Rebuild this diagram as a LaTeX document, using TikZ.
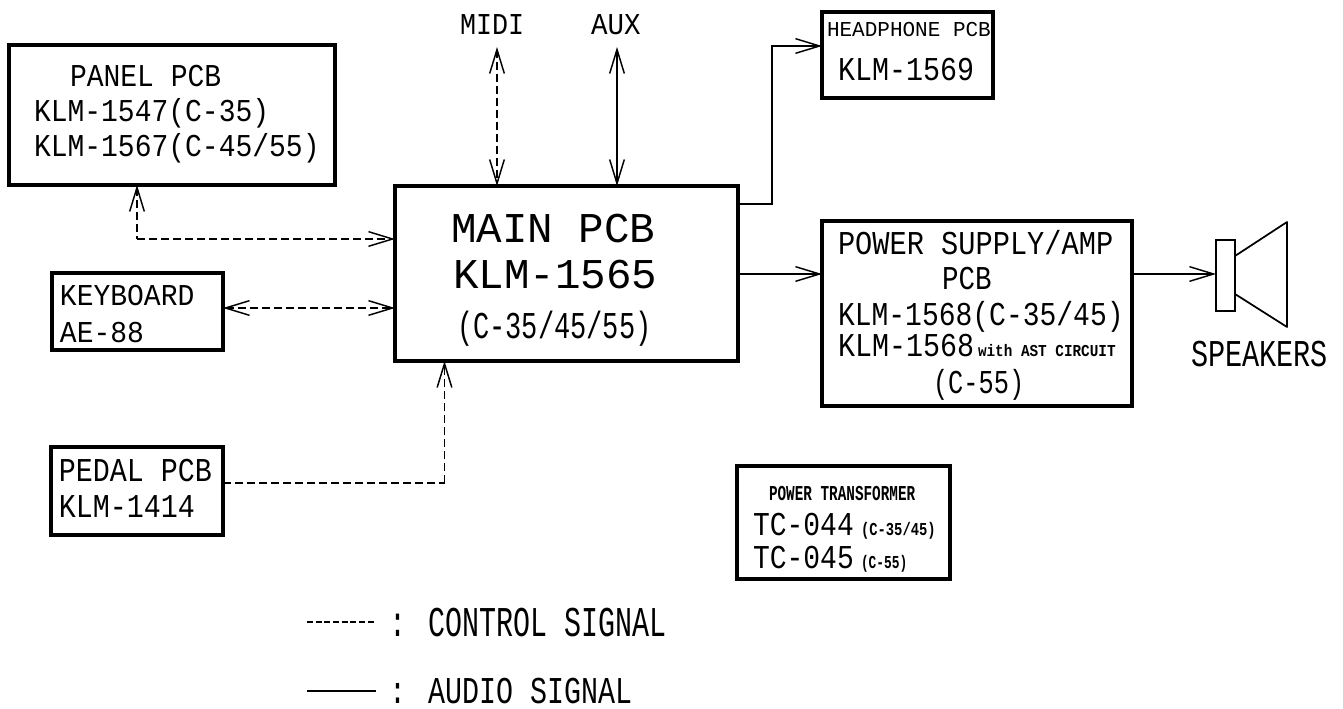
\documentclass[tikz,border=0pt]{standalone}
\usepackage{fontspec}
\usepackage{graphicx}
\setmainfont{Liberation Mono}
\usetikzlibrary{arrows.meta}
% \tx{cap height px}{advance px}{text}
\newcommand{\tx}[3]{\pgfmathsetmacro{\fsz}{#1*0.75/0.66}\pgfmathsetmacro{\xsc}{#2/(0.6*#1/0.66)}\fontsize{\fsz pt}{\fsz pt}\selectfont\scalebox{\xsc}[1]{#3}}
\tikzset{
  x=0.75pt,y=-0.75pt,
  rect/.style n args={4}{at={({(#1+#3)/2},{(#2+#4)/2})},minimum width={(#3-#1)*0.75pt},minimum height={(#4-#2)*0.75pt}},
  pcbbox/.style={draw,rectangle,line width=2.5pt,inner sep=0pt,outer sep=0pt},
  lbl/.style={anchor=base west,inner sep=0pt,outer sep=0pt},
  barb/.tip={Straight Barb[length=18pt,width=11pt,line width=1.1pt]},
  ctl/.style={line width=1.4pt,dash pattern=on 6pt off 3pt},
  ctlthin/.style={line width=0.8pt,dash pattern=on 6pt off 3pt},
  audio/.style={line width=1.3pt},
}
\begin{document}
\begin{tikzpicture}
\useasboundingbox (0,0) rectangle (1343,709);
% boxes
\node[pcbbox,rect={9}{45}{335}{185}] (panel) {};
\node[pcbbox,rect={395}{186}{738}{361}] (main) {};
\node[pcbbox,rect={52}{273}{223}{350}] (kb) {};
\node[pcbbox,rect={51}{447}{223}{535}] (pedal) {};
\node[pcbbox,rect={822}{12}{993}{98}] (hp) {};
\node[pcbbox,rect={822}{221}{1132}{406}] (psu) {};
\node[pcbbox,rect={737}{466}{950}{579}] (trans) {};
% speaker
\node[draw,rectangle,line width=1.3pt,inner sep=0pt,outer sep=0pt,rect={1216}{240}{1235}{311}] (spk) {};
\draw[line width=1.3pt,line join=round] (spk.east |- 0,256) -- (1287,222) -- (1287,327) -- (spk.east |- 0,294);
% texts
\node[lbl] (t1) at (70,87) {\tx{21}{16.8}{PANEL PCB}};
\node[lbl] (t2) at (34,122) {\tx{21}{16.8}{KLM-1547(C-35)}};
\node[lbl] (t3) at (34,157) {\tx{21}{16.8}{KLM-1567(C-45/55)}};
\node[lbl] (t4) at (460,35) {\tx{20}{16}{MIDI}};
\node[lbl] (t5) at (591,35) {\tx{20}{16.5}{AUX}};
\node[lbl] (t6) at (451,243) {\tx{28}{25.5}{MAIN PCB}};
\node[lbl] (t7) at (453,289) {\tx{28}{25.5}{KLM-1565}};
\node[lbl] (t8) at (457,339) {\tx{25}{16.2}{(C-35/45/55)}};
\node[lbl] (t9) at (60,306) {\tx{20}{16.8}{KEYBOARD}};
\node[lbl] (t10) at (60,343) {\tx{20}{16.8}{AE-88}};
\node[lbl] (t11) at (827,37) {\tx{14}{12.6}{HEADPHONE PCB}};
\node[lbl] (t12) at (838,81) {\tx{22}{17}{KLM-1569}};
\node[lbl] (t13) at (838,255) {\tx{22}{17.2}{POWER SUPPLY/AMP}};
\node[lbl] (t14) at (942,290) {\tx{22}{16.5}{PCB}};
\node[lbl] (t15) at (838,326) {\tx{22}{16.8}{KLM-1568(C-35/45)}};
\node[lbl] (t16) at (838,357) {\tx{22}{17}{KLM-1568}\hspace{3pt}\tx{11}{8.6}{\bfseries with AST CIRCUIT}};
\node[lbl] (t17) at (933,393) {\tx{22}{15.2}{(C-55)}};
\node[lbl] (t18) at (1191,367) {\tx{25}{17.1}{SPEAKERS}};
\node[lbl] (t19) at (59,481) {\tx{22}{17}{PEDAL PCB}};
\node[lbl] (t20) at (59,517) {\tx{22}{17}{KLM-1414}};
\node[lbl] (t21) at (769,500) {\tx{14}{8.6}{\bfseries POWER TRANSFORMER}};
\node[lbl] (t22) at (753,535) {\tx{22}{16.8}{TC-044}};
\node[lbl] (t23) at (861,535) {\tx{12}{8.3}{\bfseries (C-35/45)}};
\node[lbl] (t24) at (753,568) {\tx{22}{16.8}{TC-045}};
\node[lbl] (t25) at (861,568) {\tx{12}{7.7}{\bfseries (C-55)}};
\node[lbl] (t26) at (389,636) {\tx{28}{17}{: CONTROL SIGNAL}};
\node[lbl] (t27) at (389,703) {\tx{25}{17}{: AUDIO SIGNAL}};
% named connector ends
\coordinate (midiend) at (497,47);
\coordinate (auxend) at (617,47);
\coordinate (panelbend) at (137,239);
\coordinate (kbline) at (0,308);
\coordinate (pedalbend) at (444.5,483);
\coordinate (hpa) at (772,204);
\coordinate (hpb) at (772,46);
\coordinate (psuline) at (0,274);
\coordinate (lega) at (307,622);
\coordinate (legb) at (376,622);
\coordinate (legc) at (307,691);
\coordinate (legd) at (376,691);
% connectors
\draw[ctlthin,{barb}-{barb}] (midiend) -- (midiend |- main.north);
\draw[audio,{barb}-{barb}] (auxend) -- (auxend |- main.north);
\draw[ctlthin,{barb}-] (panelbend |- panel.south) -- (panelbend);
\draw[ctl,-{barb}] (panelbend) -- (panelbend -| main.west);
\draw[ctl,{barb}-{barb}] (kbline -| kb.east) -- (kbline -| main.west);
\draw[ctl] (pedalbend -| pedal.east) -- (pedalbend);
\draw[ctlthin,-{barb}] (pedalbend) -- (pedalbend |- main.south);
\draw[audio,-{barb}] (hpa -| main.east) -- (hpa) -- (hpb) -- (hpb -| hp.west);
\draw[audio,-{barb}] (psuline -| main.east) -- (psuline -| psu.west);
\draw[line width=2.2pt,-{barb}] (psuline -| psu.east) -- (psuline -| spk.west);
% legend
\draw[line width=0.9pt,dash pattern=on 4.5pt off 2pt] (lega) -- (legb);
\draw[line width=2pt] (legc) -- (legd);
\end{tikzpicture}
\end{document}
